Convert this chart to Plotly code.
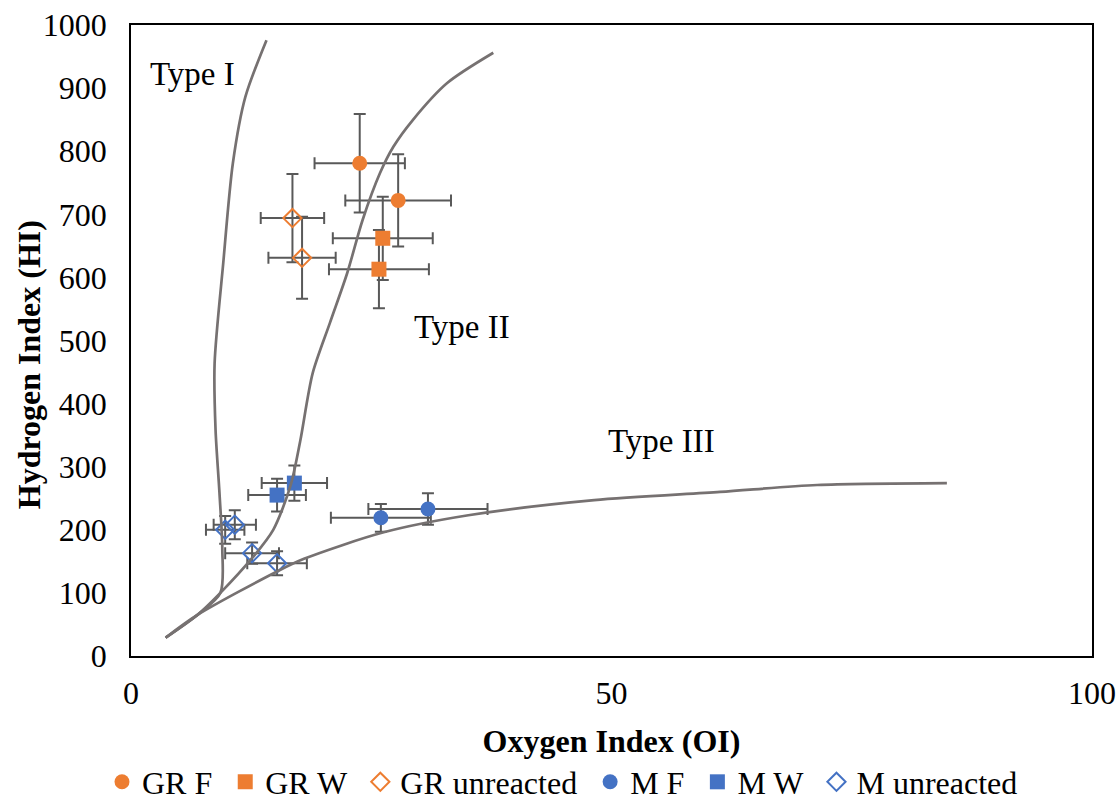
import plotly.graph_objects as go

# ---- data ----
grf_x = [23.8, 27.8]
grf_y = [781, 722]
grf_ex = [4.7, 5.5]
grf_ey = [78, 73]

grw_x = [26.2, 25.8]
grw_y = [662, 613]
grw_ex = [5.2, 5.2]
grw_ey = [66, 62]

gru_x = [16.8, 17.8]
gru_y = [694, 631]
gru_ex = [3.3, 3.5]
gru_ey = [70, 65]

mf_x = [26.0, 30.9]
mf_y = [219, 233]
mf_ex = [5.2, 6.2]
mf_ey = [22, 25]

mw_x = [15.2, 17.0]
mw_y = [255, 274]
mw_ex = [3.0, 3.4]
mw_ey = [26, 28]

mu_x = [9.8, 10.8, 12.6, 15.2]
mu_y = [200, 208, 163, 147]
mu_ex = [2.0, 2.2, 2.8, 3.1]
mu_ey = [22, 23, 17, 19]

type1_x = [3.6, 6.9, 9.3, 9.5, 9.2, 8.8, 8.7, 9.6, 10.6, 11.9, 14.1]
type1_y = [29, 65, 100, 170, 260, 358, 464, 623, 781, 886, 976]

type2_x = [3.6, 6.9, 9.3, 12.7, 14.8, 16.6, 17.6, 18.9, 20.7, 22.5, 24.1, 25.9, 27.3, 29.3, 32.9, 37.7]
type2_y = [29, 65, 100, 157, 200, 270, 340, 448, 528, 607, 691, 765, 807, 849, 908, 956]

type3_x = [3.6, 6.9, 15.2, 18.0, 26.3, 35.1, 48.2, 61.3, 71.4, 84.9]
type3_y = [29, 65, 134, 154, 196, 223, 247, 260, 271, 274]

labels = [("Type I", 6.45, 922), ("Type II", 34.4, 522), ("Type III", 55.2, 341)]

x_ticks = [0, 50, 100]
y_ticks = [0, 100, 200, 300, 400, 500, 600, 700, 800, 900, 1000]

ORANGE = "#ED7D31"
BLUE = "#4472C4"
ERR = "#595959"
CURVE = "#767171"
FONT = "Liberation Serif"
PAD = "\u00a0"

fig = go.Figure()


def err(arr):
    return dict(type="data", array=arr, visible=True, color=ERR, thickness=2, width=6)


series = [
    ("GR F", grf_x, grf_y, grf_ex, grf_ey, "circle", ORANGE, 15),
    ("GR W", grw_x, grw_y, grw_ex, grw_ey, "square", ORANGE, 15),
    ("GR unreacted", gru_x, gru_y, gru_ex, gru_ey, "diamond-open", ORANGE, 14),
    ("M F", mf_x, mf_y, mf_ex, mf_ey, "circle", BLUE, 15),
    ("M W", mw_x, mw_y, mw_ex, mw_ey, "square", BLUE, 15),
    ("M unreacted", mu_x, mu_y, mu_ex, mu_ey, "diamond-open", BLUE, 14),
]

for i, (name, xs, ys, exs, eys, sym, col, sz) in enumerate(series):
    fig.add_trace(go.Scatter(
        x=xs, y=ys, name=name + (PAD if i < len(series) - 1 else ""), mode="markers",
        marker=dict(symbol=sym, color=col, size=sz,
                    line=dict(color=col, width=2 if "open" in sym else 0)),
        error_x=err(exs), error_y=err(eys),
    ))

for cx, cy in [(type1_x, type1_y), (type2_x, type2_y), (type3_x, type3_y)]:
    fig.add_trace(go.Scatter(
        x=cx, y=cy, mode="lines", showlegend=False, hoverinfo="skip",
        line=dict(color=CURVE, width=2.7, shape="spline", smoothing=0.8),
    ))

for txt, ax, ay in labels:
    fig.add_annotation(x=ax, y=ay, text=txt, showarrow=False,
                       font=dict(family=FONT, size=33, color="black"),
                       xanchor="center", yanchor="middle")

# y-axis title placed as a rotated annotation (matches reference position)
fig.add_annotation(xref="paper", yref="paper", x=-0.106, y=0.461,
                   text="<b>Hydrogen Index (HI)</b>", textangle=-90, showarrow=False,
                   font=dict(family=FONT, size=32, color="black"),
                   xanchor="center", yanchor="middle")

fig.update_layout(
    width=1120, height=801,
    margin=dict(l=131, r=28, t=25, b=145, autoexpand=False),
    paper_bgcolor="white", plot_bgcolor="white",
    font=dict(family=FONT, size=32, color="black"),
    showlegend=True,
    legend=dict(orientation="h", x=0.449, xanchor="center", y=-0.1997, yanchor="middle",
                font=dict(family=FONT, size=32, color="black"),
                bgcolor="rgba(0,0,0,0)"),
    xaxis=dict(range=[0, 100], tickvals=x_ticks, showgrid=False, zeroline=False,
               showline=True, mirror=True, linecolor="black", linewidth=1.5,
               ticks="outside", ticklen=8, tickcolor="rgba(0,0,0,0)",
               automargin=False,
               tickfont=dict(family=FONT, size=32, color="black"),
               title=dict(text="<b>Oxygen Index (OI)</b>", standoff=19,
                          font=dict(family=FONT, size=32, color="black"))),
    yaxis=dict(range=[0, 1000], tickvals=y_ticks, showgrid=False, zeroline=False,
               showline=True, mirror=True, linecolor="black", linewidth=1.5,
               ticks="outside", ticklen=16, tickcolor="rgba(0,0,0,0)",
               automargin=False,
               tickfont=dict(family=FONT, size=32, color="black")),
)

fig.write_html("out.html")
